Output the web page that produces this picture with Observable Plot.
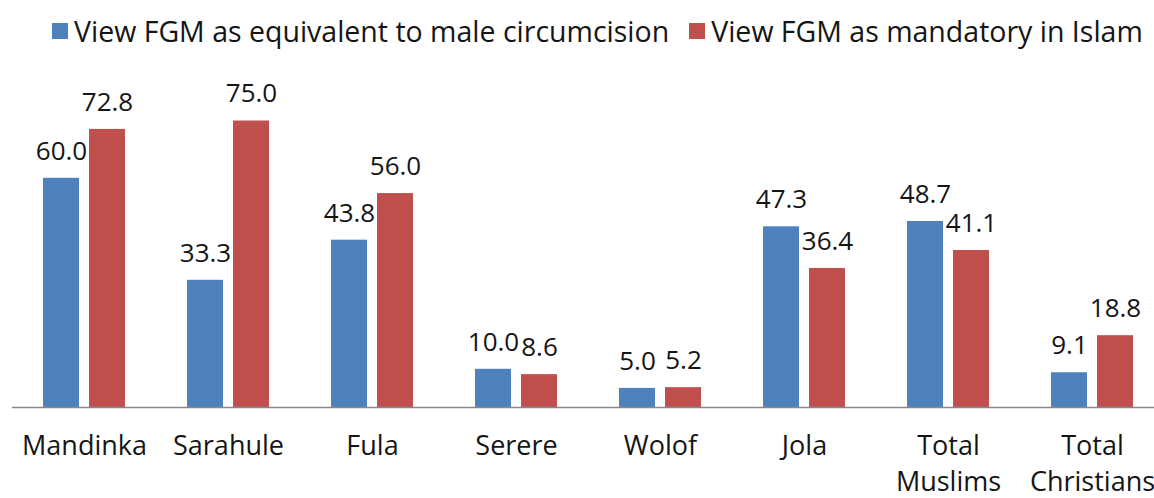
<!DOCTYPE html>
<html>
<head>
<meta charset="utf-8">
<script src="https://cdn.jsdelivr.net/npm/d3@7"></script>
<script src="https://cdn.jsdelivr.net/npm/@observablehq/plot@0.6"></script>
<style>
  html, body { margin: 0; padding: 0; background: #fff; overflow: hidden; }
  body { width: 1154px; height: 498px; font-family: "Open Sans", sans-serif; }
  #legend { height: 62px; display: flex; align-items: center; padding-left: 52px; font-size: 28.5px; color: #151515; white-space: nowrap; }
  .item { display: flex; align-items: center; margin-right: 20px; }
  .sw { width: 16px; height: 16px; margin-right: 6px; }
  svg { display: block; }
</style>
</head>
<body>
<div id="legend"></div>
<div id="chart"></div>
<script>
const categories = ["Mandinka", "Sarahule", "Fula", "Serere", "Wolof", "Jola", "Total\nMuslims", "Total\nChristians"];
const seriesNames = ["View FGM as equivalent to male circumcision", "View FGM as mandatory in Islam"];
const equivalentValues = [60.0, 33.3, 43.8, 10.0, 5.0, 47.3, 48.7, 9.1];
const mandatoryValues = [72.8, 75.0, 56.0, 8.6, 5.2, 36.4, 41.1, 18.8];
const colors = ["#4F81BD", "#C0504D"];

const rows = [];
categories.forEach((c, i) => {
  rows.push({cat: c, series: seriesNames[0], value: equivalentValues[i]});
  rows.push({cat: c, series: seriesNames[1], value: mandatoryValues[i]});
});

const legend = document.getElementById("legend");
seriesNames.forEach((s, i) => {
  const it = document.createElement("div");
  it.className = "item";
  const sw = document.createElement("div");
  sw.className = "sw";
  sw.style.background = colors[i];
  const t = document.createElement("span");
  t.textContent = s;
  it.appendChild(sw); it.appendChild(t);
  legend.appendChild(it);
});

const chart = Plot.plot({
  width: 1154,
  height: 436,
  marginTop: 0,
  marginBottom: 91,
  marginLeft: 0,
  marginRight: 0,
  style: {fontFamily: "Open Sans, sans-serif", fontSize: "27px", color: "#151515", background: "#fff"},
  fx: {domain: categories, range: [10, 1165], padding: 0, label: null},
  x: {domain: seriesNames, paddingInner: 0.213, paddingOuter: 0.64, axis: null},
  y: {domain: [0, 80], range: [345, 39.4], axis: null},
  color: {domain: seriesNames, range: colors},
  marks: [
    Plot.barY(rows, {fx: "cat", x: "series", y: "value", fill: "series"}),
    Plot.ruleY([0], {stroke: "#888", strokeWidth: 1.5}),
    Plot.text(rows, {fx: "cat", x: "series", y: "value", text: d => d.value.toFixed(1), lineAnchor: "middle", dy: -27, fontSize: 26, fill: "#151515"}),
    Plot.axisFx({tickSize: 0, tickPadding: 23, fontSize: 27, lineHeight: 1.3, label: null, anchor: "bottom"})
  ]
});
document.getElementById("chart").appendChild(chart);
</script>
</body>
</html>
